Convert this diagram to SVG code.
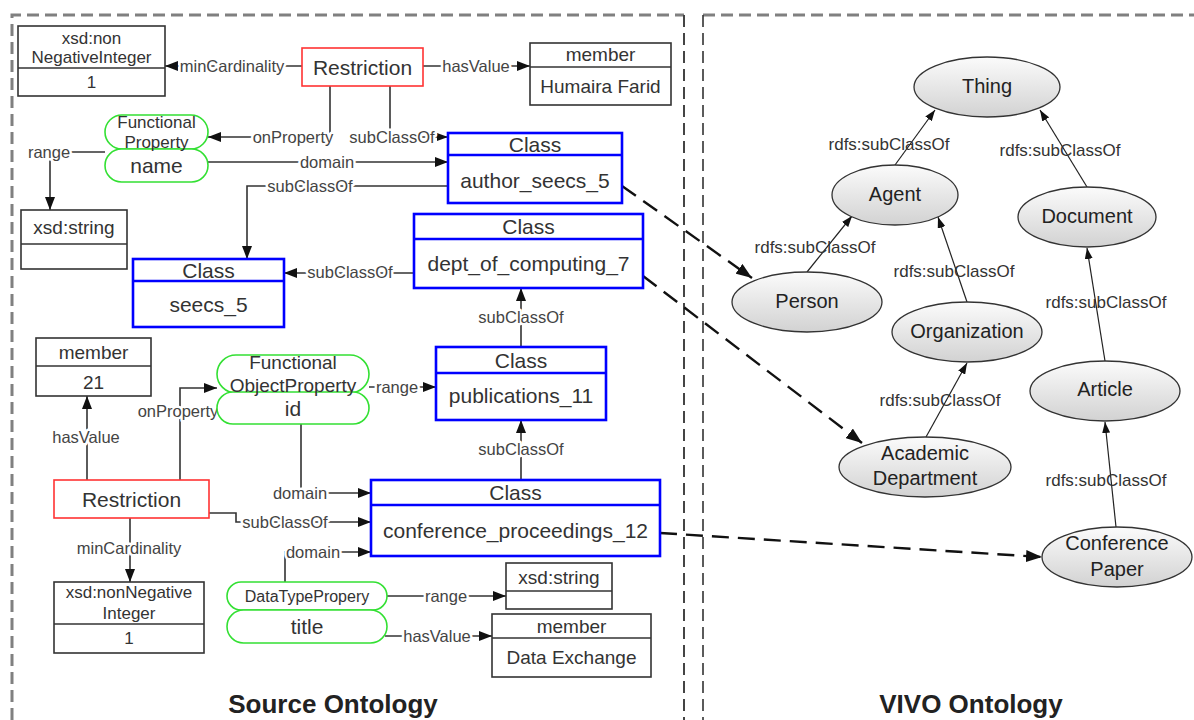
<svg xmlns="http://www.w3.org/2000/svg" width="1194" height="720" viewBox="0 0 1194 720">
  <style>
    text { font-family: "Liberation Sans", Arial, sans-serif; fill: #333; text-anchor: middle; dominant-baseline: central; }
    .box { fill: #fff; stroke: #333; stroke-width: 1.6; }
    .cls { fill: #fff; stroke: #0000ff; stroke-width: 2.6; }
    .res { fill: #fff; stroke: #ff3333; stroke-width: 1.6; }
    .pill { fill: #fff; stroke: #33e033; stroke-width: 1.6; }
    .div { stroke: #333; stroke-width: 1.6; }
    .divc { stroke: #0000ff; stroke-width: 2.6; }
    .t17 { font-size: 17px; }
    .t19 { font-size: 19px; }
    .t21 { font-size: 21px; }
    .lbl { font-size: 16.5px; fill: #444; stroke: #fff; stroke-width: 5px; stroke-linejoin: round; paint-order: stroke; }
    .edge { fill: none; stroke: #333; stroke-width: 1.6; }
    .map { fill: none; stroke: #111; stroke-width: 2.4; stroke-dasharray: 17 9; }
    .sub { fill: none; stroke: #222; stroke-width: 1.2; }
    .ell { fill: url(#ellFill); stroke: #333; stroke-width: 1.3; }
    .et { font-size: 20px; fill: #222; }
    .rl { font-size: 17px; fill: #333; }
    .title { font-size: 26px; font-weight: bold; fill: #222; dominant-baseline: auto; }
  </style>
  <defs>
    <linearGradient id="ellFill" x1="0" y1="0" x2="0" y2="1">
      <stop offset="0" stop-color="#fbfbfb"/>
      <stop offset="1" stop-color="#d2d2d2"/>
    </linearGradient>
    <marker id="arr" markerUnits="userSpaceOnUse" markerWidth="13" markerHeight="10" refX="13" refY="5" orient="auto">
      <path d="M0,0 L13,5 L0,10 z" fill="#111"/>
    </marker>
    <marker id="arrSm" markerUnits="userSpaceOnUse" markerWidth="11" markerHeight="8" refX="11" refY="4" orient="auto">
      <path d="M0,0 L11,4 L0,8 z" fill="#111"/>
    </marker>
    <marker id="arrMap" markerUnits="userSpaceOnUse" markerWidth="16" markerHeight="12" refX="16" refY="6" orient="auto">
      <path d="M0,0 L16,6 L0,12 z" fill="#111"/>
    </marker>
  </defs>

  <!-- panel frames -->
  <g id="frames" fill="none">
    <path d="M12,720 V15 H684" stroke="#808080" stroke-width="3" stroke-dasharray="12 6"/>
    <path d="M684,15 V720" stroke="#444" stroke-width="2" stroke-dasharray="12 6"/>
    <path d="M703,15 H1194" stroke="#808080" stroke-width="3" stroke-dasharray="12 6"/>
    <path d="M703,15 V720" stroke="#333" stroke-width="1.6" stroke-dasharray="12 6"/>
  </g>

  <!-- connectors -->
  <g id="connectors">
    <path class="edge" d="M302,66 H165" marker-end="url(#arr)"/>
    <path class="edge" d="M423,66 H530" marker-end="url(#arr)"/>
    <path class="edge" d="M330,86 V137 H208" marker-end="url(#arr)"/>
    <path class="edge" d="M390,86 V137 H448" marker-end="url(#arrSm)"/>
    <path class="edge" d="M105,152 H50 V210" marker-end="url(#arr)"/>
    <path class="edge" d="M208,162 H448" marker-end="url(#arr)"/>
    <path class="edge" d="M448,186 H247 V259" marker-end="url(#arr)"/>
    <path class="edge" d="M414,273 H284" marker-end="url(#arr)"/>
    <path class="edge" d="M521,347 V288" marker-end="url(#arr)"/>
    <path class="edge" d="M369,387 H436" marker-end="url(#arr)"/>
    <path class="edge" d="M180,480 V388 H217" marker-end="url(#arr)"/>
    <path class="edge" d="M87,480 V396" marker-end="url(#arr)"/>
    <path class="edge" d="M301,424 V493 H371" marker-end="url(#arr)"/>
    <path class="edge" d="M209,513 H236 V522 H371" marker-end="url(#arr)"/>
    <path class="edge" d="M285,582 V552 H371" marker-end="url(#arr)"/>
    <path class="edge" d="M130,518 V582" marker-end="url(#arr)"/>
    <path class="edge" d="M521,480 V420" marker-end="url(#arr)"/>
    <path class="edge" d="M387,596 H506" marker-end="url(#arr)"/>
    <path class="edge" d="M385,636 H492" marker-end="url(#arr)"/>

    <text class="lbl" x="232" y="66">minCardinality</text>
    <text class="lbl" x="476" y="66">hasValue</text>
    <text class="lbl" x="293" y="137">onProperty</text>
    <text class="lbl" x="392" y="137">subClassOf</text>
    <text class="lbl" x="49" y="152">range</text>
    <text class="lbl" x="327" y="162">domain</text>
    <text class="lbl" x="310" y="186">subClassOf</text>
    <text class="lbl" x="350" y="272">subClassOf</text>
    <text class="lbl" x="521" y="317">subClassOf</text>
    <text class="lbl" x="397" y="387">range</text>
    <text class="lbl" x="178" y="411">onProperty</text>
    <text class="lbl" x="86" y="437">hasValue</text>
    <text class="lbl" x="300" y="493">domain</text>
    <text class="lbl" x="285" y="522">subClassOf</text>
    <text class="lbl" x="313" y="552">domain</text>
    <text class="lbl" x="129" y="548">minCardinality</text>
    <text class="lbl" x="521" y="449">subClassOf</text>
    <text class="lbl" x="446" y="596">range</text>
    <text class="lbl" x="437" y="636">hasValue</text>

    <!-- hierarchy edges of the VIVO side -->
    <path class="sub" d="M895,165 L935,110" marker-end="url(#arrSm)"/>
    <path class="sub" d="M1087,187 L1040,110" marker-end="url(#arrSm)"/>
    <path class="sub" d="M807,272 L852,216" marker-end="url(#arrSm)"/>
    <path class="sub" d="M967,302 L938,217" marker-end="url(#arrSm)"/>
    <path class="sub" d="M1105,361 L1087,248" marker-end="url(#arrSm)"/>
    <path class="sub" d="M926,437 L967,363" marker-end="url(#arrSm)"/>
    <path class="sub" d="M1116,527 L1105,422" marker-end="url(#arrSm)"/>
    <text class="rl" x="889" y="144">rdfs:subClassOf</text>
    <text class="rl" x="1060" y="150">rdfs:subClassOf</text>
    <text class="rl" x="815" y="247">rdfs:subClassOf</text>
    <text class="rl" x="954" y="271">rdfs:subClassOf</text>
    <text class="rl" x="1106" y="302">rdfs:subClassOf</text>
    <text class="rl" x="940" y="400">rdfs:subClassOf</text>
    <text class="rl" x="1106" y="480">rdfs:subClassOf</text>

    <!-- mappings between the two ontologies -->
    <path class="map" d="M622,186 L752,278" marker-end="url(#arrMap)"/>
    <path class="map" d="M643,276 L862,443" marker-end="url(#arrMap)"/>
    <path class="map" d="M660,533 L1042,557" marker-end="url(#arrMap)"/>
  </g>

  <!-- source ontology nodes -->
  <g id="xsd-nonneg-top">
    <rect class="box" x="18" y="26" width="147" height="70"/>
    <line class="div" x1="18" y1="68" x2="165" y2="68"/>
    <text class="t17" x="91.5" y="38">xsd:non</text>
    <text class="t17" x="91.5" y="57">NegativeInteger</text>
    <text class="t17" x="91.5" y="82">1</text>
  </g>
  <g id="restriction-top">
    <rect class="res" x="302" y="48" width="121" height="38"/>
    <text class="t21" x="362.5" y="67">Restriction</text>
  </g>
  <g id="member-humaira">
    <rect class="box" x="530" y="43" width="141" height="62"/>
    <line class="div" x1="530" y1="67" x2="671" y2="67"/>
    <text class="t19" x="600.5" y="54">member</text>
    <text class="t19" x="600.5" y="86">Humaira Farid</text>
  </g>
  <g id="prop-name">
    <rect class="pill" x="105" y="115" width="103" height="34" rx="17"/>
    <rect class="pill" x="105" y="149" width="103" height="33" rx="16.5"/>
    <text class="t17" x="156.5" y="122">Functional</text>
    <text class="t17" x="156.5" y="142">Property</text>
    <text class="t21" x="156.5" y="165">name</text>
  </g>
  <g id="xsd-string-top">
    <rect class="box" x="21" y="210" width="106" height="59"/>
    <line class="div" x1="21" y1="244" x2="127" y2="244"/>
    <text class="t19" x="74" y="227">xsd:string</text>
  </g>
  <g id="class-author">
    <rect class="cls" x="448" y="133" width="174" height="70"/>
    <line class="divc" x1="448" y1="155" x2="622" y2="155"/>
    <text class="t21" x="535" y="144">Class</text>
    <text class="t21" x="535" y="180">author_seecs_5</text>
  </g>
  <g id="class-seecs">
    <rect class="cls" x="133" y="259" width="151" height="68"/>
    <line class="divc" x1="133" y1="281" x2="284" y2="281"/>
    <text class="t21" x="208.5" y="270">Class</text>
    <text class="t21" x="208.5" y="304">seecs_5</text>
  </g>
  <g id="class-dept">
    <rect class="cls" x="414" y="214" width="229" height="74"/>
    <line class="divc" x1="414" y1="239" x2="643" y2="239"/>
    <text class="t21" x="528.5" y="226">Class</text>
    <text class="t21" x="528.5" y="263">dept_of_computing_7</text>
  </g>
  <g id="class-publications">
    <rect class="cls" x="436" y="347" width="170" height="73"/>
    <line class="divc" x1="436" y1="373" x2="606" y2="373"/>
    <text class="t21" x="521" y="360">Class</text>
    <text class="t21" x="521" y="395">publications_11</text>
  </g>
  <g id="member-21">
    <rect class="box" x="36" y="338" width="115" height="58"/>
    <line class="div" x1="36" y1="366" x2="151" y2="366"/>
    <text class="t19" x="93.5" y="352">member</text>
    <text class="t19" x="93.5" y="382">21</text>
  </g>
  <g id="prop-id">
    <rect class="pill" x="217" y="355" width="152" height="38" rx="19"/>
    <rect class="pill" x="217" y="392" width="152" height="32" rx="16"/>
    <text class="t19" x="293" y="362">Functional</text>
    <text class="t19" x="293" y="385">ObjectProperty</text>
    <text class="t21" x="293" y="408">id</text>
  </g>
  <g id="restriction-bottom">
    <rect class="res" x="54" y="480" width="155" height="38"/>
    <text class="t21" x="131.5" y="499">Restriction</text>
  </g>
  <g id="xsd-nonneg-bottom">
    <rect class="box" x="54" y="582" width="150" height="71"/>
    <line class="div" x1="54" y1="624" x2="204" y2="624"/>
    <text class="t17" x="129" y="592">xsd:nonNegative</text>
    <text class="t17" x="129" y="613">Integer</text>
    <text class="t17" x="129" y="638">1</text>
  </g>
  <g id="class-conference">
    <rect class="cls" x="371" y="480" width="289" height="76"/>
    <line class="divc" x1="371" y1="505" x2="660" y2="505"/>
    <text class="t21" x="515.5" y="492">Class</text>
    <text class="t21" x="515.5" y="530">conference_proceedings_12</text>
  </g>
  <g id="prop-title">
    <rect class="pill" x="227" y="582" width="160" height="28" rx="14"/>
    <rect class="pill" x="227" y="610" width="160" height="33" rx="16.5"/>
    <text x="307" y="596" style="font-size:16px">DataTypePropery</text>
    <text class="t21" x="307" y="626">title</text>
  </g>
  <g id="xsd-string-bottom">
    <rect class="box" x="506" y="563" width="106" height="46"/>
    <line class="div" x1="506" y1="591" x2="612" y2="591"/>
    <text class="t19" x="559" y="577">xsd:string</text>
  </g>
  <g id="member-dataexchange">
    <rect class="box" x="492" y="614" width="159" height="63"/>
    <line class="div" x1="492" y1="638" x2="651" y2="638"/>
    <text class="t19" x="571.5" y="626">member</text>
    <text class="t19" x="571.5" y="657">Data Exchange</text>
  </g>

  <!-- VIVO ontology nodes -->
  <g id="vivo-thing">
    <ellipse class="ell" cx="987" cy="87" rx="73" ry="30"/>
    <text class="et" x="987" y="86">Thing</text>
  </g>
  <g id="vivo-agent">
    <ellipse class="ell" cx="895" cy="195" rx="63" ry="30"/>
    <text class="et" x="895" y="194">Agent</text>
  </g>
  <g id="vivo-document">
    <ellipse class="ell" cx="1087" cy="217" rx="69" ry="30"/>
    <text class="et" x="1087" y="216">Document</text>
  </g>
  <g id="vivo-person">
    <ellipse class="ell" cx="807" cy="302" rx="75" ry="30"/>
    <text class="et" x="807" y="301">Person</text>
  </g>
  <g id="vivo-organization">
    <ellipse class="ell" cx="967" cy="332" rx="75" ry="30"/>
    <text class="et" x="967" y="331">Organization</text>
  </g>
  <g id="vivo-article">
    <ellipse class="ell" cx="1105" cy="391" rx="75" ry="30"/>
    <text class="et" x="1105" y="389">Article</text>
  </g>
  <g id="vivo-academic-department">
    <ellipse class="ell" cx="925" cy="467" rx="86" ry="30"/>
    <text class="et" x="925" y="453">Academic</text>
    <text class="et" x="925" y="478">Department</text>
  </g>
  <g id="vivo-conference-paper">
    <ellipse class="ell" cx="1117" cy="557" rx="75" ry="30"/>
    <text class="et" x="1117" y="543">Conference</text>
    <text class="et" x="1117" y="569">Paper</text>
  </g>

  <!-- panel titles -->
  <text class="title" x="333" y="713">Source Ontology</text>
  <text class="title" x="971" y="713">VIVO Ontology</text>
</svg>
